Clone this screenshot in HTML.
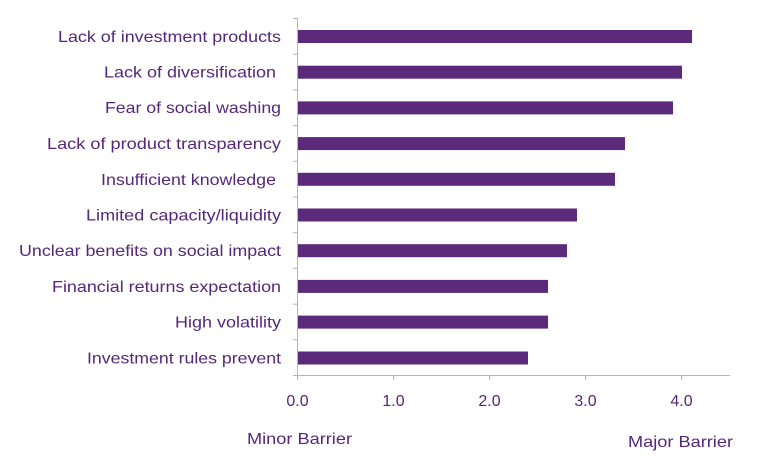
<!DOCTYPE html>
<html><head><style>body{margin:0;background:#fff}svg{display:block}text{font-family:"Liberation Sans",sans-serif;fill:#55277a;font-size:16px}</style></head>
<body>
<svg width="768" height="471" xmlns="http://www.w3.org/2000/svg">
<g stroke="#b5b5b5" stroke-width="1">
<line x1="297.5" y1="18" x2="297.5" y2="375.5"/>
<line x1="297" y1="375.5" x2="730" y2="375.5"/>
<line x1="293" y1="18.5" x2="297" y2="18.5"/><line x1="293" y1="54.2" x2="297" y2="54.2"/><line x1="293" y1="89.9" x2="297" y2="89.9"/><line x1="293" y1="125.6" x2="297" y2="125.6"/><line x1="293" y1="161.3" x2="297" y2="161.3"/><line x1="293" y1="197" x2="297" y2="197"/><line x1="293" y1="232.7" x2="297" y2="232.7"/><line x1="293" y1="268.4" x2="297" y2="268.4"/><line x1="293" y1="304.1" x2="297" y2="304.1"/><line x1="293" y1="339.8" x2="297" y2="339.8"/><line x1="293" y1="375.5" x2="297" y2="375.5"/>
<line x1="297.5" y1="375" x2="297.5" y2="380"/><line x1="393.5" y1="375" x2="393.5" y2="380"/><line x1="489.5" y1="375" x2="489.5" y2="380"/><line x1="585.5" y1="375" x2="585.5" y2="380"/><line x1="681.5" y1="375" x2="681.5" y2="380"/>
</g>
<g fill="#5b2a7b">
<rect x="298" y="30" width="394" height="13"/>
<rect x="298" y="65.7" width="384" height="13"/>
<rect x="298" y="101.4" width="375" height="13"/>
<rect x="298" y="137.1" width="327" height="13"/>
<rect x="298" y="172.8" width="317" height="13"/>
<rect x="298" y="208.5" width="279" height="13"/>
<rect x="298" y="244.2" width="269" height="13"/>
<rect x="298" y="279.9" width="250" height="13"/>
<rect x="298" y="315.6" width="250" height="13"/>
<rect x="298" y="351.5" width="230" height="13"/>
</g>
<g lengthAdjust="spacingAndGlyphs">
<text x="58" y="42" textLength="223" lengthAdjust="spacingAndGlyphs">Lack of investment products</text>
<text x="104" y="77.5" textLength="172" lengthAdjust="spacingAndGlyphs">Lack of diversification</text>
<text x="105" y="113" textLength="176" lengthAdjust="spacingAndGlyphs">Fear of social washing</text>
<text x="47" y="149" textLength="234" lengthAdjust="spacingAndGlyphs">Lack of product transparency</text>
<text x="101" y="185" textLength="175" lengthAdjust="spacingAndGlyphs">Insufficient knowledge</text>
<text x="86" y="220.5" textLength="195" lengthAdjust="spacingAndGlyphs">Limited capacity/liquidity</text>
<text x="19" y="256" textLength="262" lengthAdjust="spacingAndGlyphs">Unclear benefits on social impact</text>
<text x="52" y="292" textLength="229" lengthAdjust="spacingAndGlyphs">Financial returns expectation</text>
<text x="175" y="327.5" textLength="106" lengthAdjust="spacingAndGlyphs">High volatility</text>
<text x="87" y="363.5" textLength="194" lengthAdjust="spacingAndGlyphs">Investment rules prevent</text>
</g>
<g text-anchor="middle">
<text x="297.5" y="406">0.0</text><text x="393.5" y="406">1.0</text><text x="489.5" y="406">2.0</text><text x="585.5" y="406">3.0</text><text x="681.5" y="406">4.0</text>
</g>
<text x="247" y="444" textLength="105" lengthAdjust="spacingAndGlyphs">Minor Barrier</text>
<text x="628" y="447" textLength="105" lengthAdjust="spacingAndGlyphs">Major Barrier</text>
</svg>
</body></html>
